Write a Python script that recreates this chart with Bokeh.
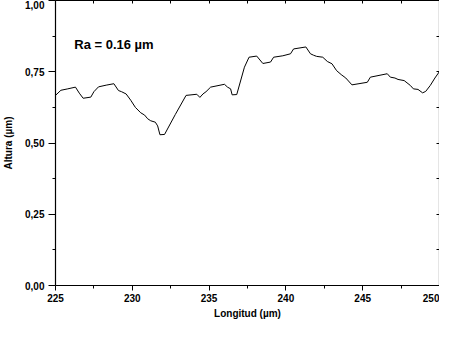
from bokeh.plotting import figure
from bokeh.models import LinearAxis, FixedTicker, Label
from bokeh.embed import file_html
from bokeh.resources import INLINE

longitud = [225.0, 225.35, 225.8, 226.3, 226.55, 226.8, 227.3, 227.5, 227.8, 228.3, 228.8,
            229.1, 229.3, 229.6, 229.9, 230.2, 230.55, 230.8, 231.0, 231.2, 231.5, 231.65, 231.8, 232.1,
            232.8, 233.5, 234.2, 234.4, 234.6, 234.8, 235.1, 236.0, 236.2, 236.4, 236.5, 236.8,
            237.3, 237.6, 238.1, 238.5, 239.0, 239.2, 239.8, 240.3, 240.5, 241.3, 241.6, 241.8,
            242.0, 242.4, 242.7, 243.0, 243.3, 243.6, 243.9, 244.3, 245.3, 245.5, 246.6, 246.8,
            247.1, 247.3, 247.7, 248.1, 248.3, 248.6, 248.9, 249.1, 249.4, 249.7, 250.0]
altura = [0.667, 0.685, 0.690, 0.696, 0.675, 0.657, 0.661, 0.680, 0.697, 0.703, 0.708,
          0.684, 0.680, 0.672, 0.650, 0.625, 0.606, 0.598, 0.585, 0.578, 0.573, 0.560, 0.529, 0.530,
          0.600, 0.667, 0.671, 0.660, 0.672, 0.680, 0.696, 0.706, 0.696, 0.690, 0.669, 0.670,
          0.766, 0.801, 0.805, 0.779, 0.784, 0.801, 0.806, 0.813, 0.830, 0.837, 0.813, 0.808,
          0.804, 0.801, 0.786, 0.778, 0.754, 0.740, 0.728, 0.704, 0.713, 0.731, 0.743, 0.731,
          0.728, 0.723, 0.719, 0.702, 0.690, 0.688, 0.676, 0.681, 0.702, 0.728, 0.751]

x_ticks = [225, 230, 235, 240, 245, 250]
x_minor = [227.5, 232.5, 237.5, 242.5, 247.5]
y_ticks = [0.0, 0.25, 0.5, 0.75, 1.0]
y_minor = [0.125, 0.375, 0.625, 0.875]
y_labels = {0.0: "0,00", 0.25: "0,25", 0.5: "0,50", 0.75: "0,75", 1.0: "1,00"}

FONT = "Liberation Sans"

p = figure(frame_width=384, frame_height=285, output_backend="svg", toolbar_location=None,
           x_range=(225, 250), y_range=(0, 1.0),
           min_border_left=0, min_border_right=0, min_border_top=0, min_border_bottom=0)
p.background_fill_color = "white"
p.border_fill_color = "white"
p.outline_line_color = None
p.xgrid.visible = False
p.ygrid.visible = False

p.line(longitud, altura, line_color="black", line_width=1)

xa = p.xaxis[0]
xa.ticker = FixedTicker(ticks=x_ticks, minor_ticks=x_minor)
xa.axis_label = "Longitud (µm)"
ya = p.yaxis[0]
ya.ticker = FixedTicker(ticks=y_ticks, minor_ticks=y_minor)
ya.major_label_overrides = y_labels
ya.axis_label = "Altura (µm)"

for ax in (xa, ya):
    ax.axis_line_color = "black"
    ax.axis_line_width = 1.2
    ax.major_tick_line_color = "black"
    ax.minor_tick_line_color = "black"
    ax.major_tick_in = 0
    ax.minor_tick_in = 0
    ax.minor_tick_out = 3
    ax.major_label_text_font = FONT
    ax.major_label_text_font_style = "bold"
    ax.major_label_text_font_size = "10px"
    ax.major_label_text_color = "black"
    ax.axis_label_text_font = FONT
    ax.axis_label_text_font_style = "bold"
    ax.axis_label_text_font_size = "10px"
    ax.axis_label_text_color = "black"

xa.major_tick_out = 5
xa.major_label_standoff = 3
xa.axis_label_standoff = 3
ya.major_tick_out = 7
ya.major_label_standoff = 4
ya.axis_label_standoff = 8
ya.major_label_orientation = "horizontal"

top = LinearAxis(ticker=FixedTicker(ticks=x_ticks, minor_ticks=x_minor))
top.major_label_overrides = {t: "" for t in x_ticks}
top.major_label_standoff = 6
right = LinearAxis(ticker=FixedTicker(ticks=y_ticks, minor_ticks=y_minor))
right.major_label_overrides = {t: "" for t in y_ticks}
right.major_label_standoff = 0
for ax in (top, right):
    ax.axis_line_color = "black"
    ax.axis_line_width = 1.2
    ax.major_tick_in = 3
    ax.major_tick_out = 0
    ax.minor_tick_in = 3
    ax.minor_tick_out = 0
    ax.major_label_text_font_size = "1px"
p.add_layout(top, "above")
p.add_layout(right, "right")

p.add_layout(Label(x=226.22, y=0.845, text="Ra = 0.16 µm", text_font=FONT,
                   text_font_style="bold", text_font_size="13px", text_color="black",
                   text_baseline="alphabetic"))

open("out.html", "w").write(file_html(p, INLINE))
